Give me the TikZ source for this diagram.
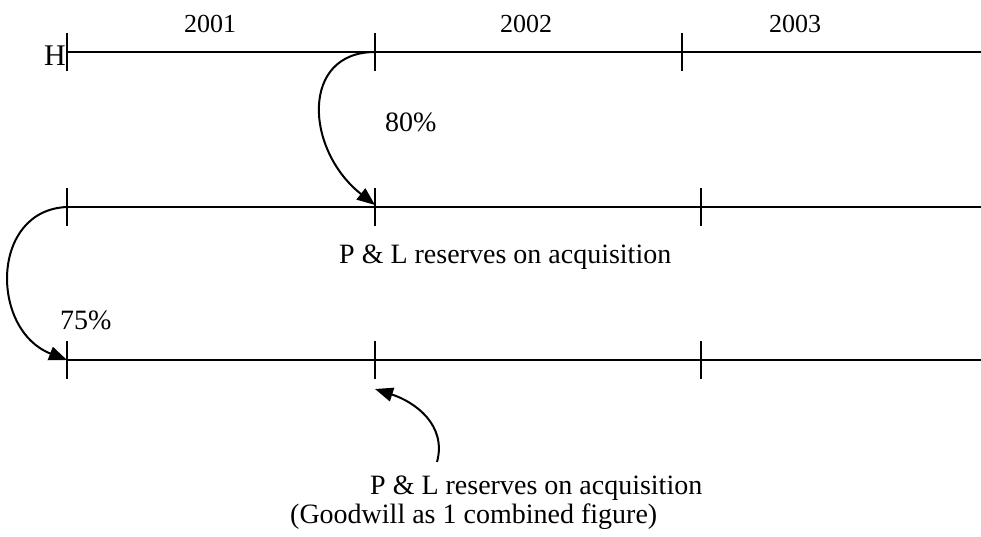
\documentclass[tikz,border=0pt]{standalone}
\usepackage{fontspec}
\setmainfont{Liberation Serif}
\usetikzlibrary{arrows.meta}
\begin{document}
\begin{tikzpicture}[x=1pt,y=-1pt,
  axis/.style={line width=2pt},
  tickmark/.style={line width=2pt},
  flow/.style={line width=2pt,-{Triangle[length=18pt,width=14pt]}},
  lbl/.style={inner sep=0pt,font=\fontsize{28}{32}\selectfont},
  yr/.style={inner sep=0pt,anchor=base,font=\fontsize{26}{30}\selectfont}]
\useasboundingbox (0,0) rectangle (981,536);

% timeline rows: start, ticks and right end
\coordinate (r1a) at (67,52);  \coordinate (r1b) at (375,52);  \coordinate (r1c) at (682,52);  \coordinate (r1e) at (981,52);
\coordinate (r2a) at (67,207); \coordinate (r2b) at (375,207); \coordinate (r2c) at (701,207); \coordinate (r2e) at (981,207);
\coordinate (r3a) at (67,360); \coordinate (r3b) at (375,360); \coordinate (r3c) at (701,360); \coordinate (r3e) at (981,360);

\draw[axis] (r1a) -- (r1e);
\draw[axis] (r2a) -- (r2e);
\draw[axis] (r3a) -- (r3e);

\foreach \t in {r1a,r1b,r1c,r2a,r2b,r2c,r3a,r3b,r3c}
  \draw[tickmark] (\t) ++(0,-19) -- ++(0,38);

% year labels and row marker
\node[yr] (y1) at (210,32) {2001};
\node[yr] (y2) at (526,32) {2002};
\node[yr] (y3) at (795,32) {2003};
\node[lbl,anchor=base east,font=\fontsize{30}{34}\selectfont] (h) at (66,65) {H};

% percentages and captions
\node[lbl,anchor=base west] (p80) at (385,131) {80\%};
\node[lbl,anchor=base west] (p75) at (60,329) {75\%};
\node[lbl,anchor=base west] (mid) at (339,263) {P \& L reserves on acquisition};
\node[lbl,anchor=base west] (bot1) at (370,494) {P \& L reserves on acquisition};
\node[lbl,anchor=base west] (bot2) at (290,523) {(Goodwill as 1 combined figure)};

% arrow end points
\coordinate (hit2) at (375,205);
\coordinate (hit3) at (375,389);
\coordinate (from3) at (437,462);

% curved arrows
\draw[flow] (r1b) .. controls (300,52) and (305,150) .. (hit2);
\draw[flow] (r2a) .. controls (-10,210) and (-10,330) .. (r3a);
\draw[flow] (from3) .. controls (447,425) and (415,402) .. (hit3);
\end{tikzpicture}
\end{document}
